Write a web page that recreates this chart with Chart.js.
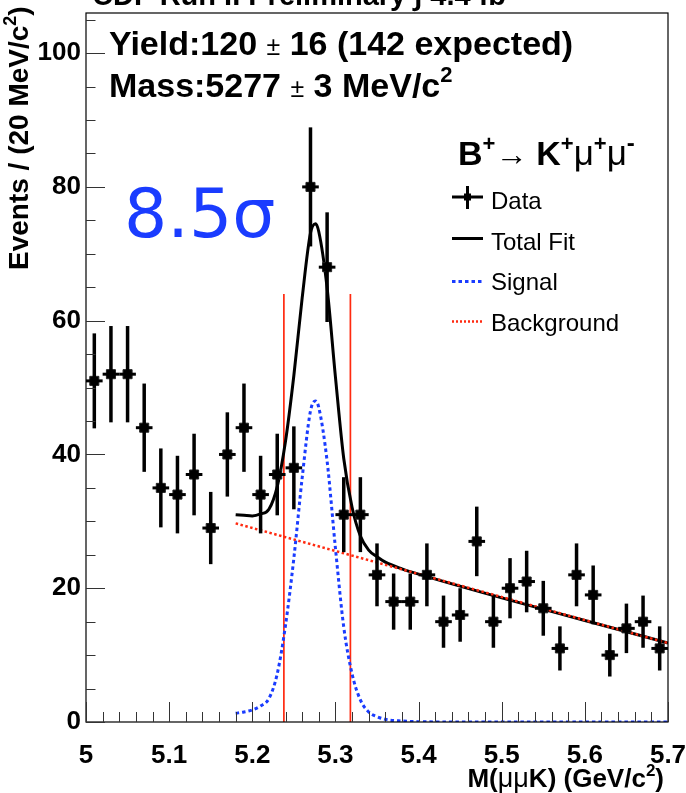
<!DOCTYPE html>
<html>
<head>
<meta charset="utf-8">
<script src="https://cdn.jsdelivr.net/npm/chart.js@4.4.1/dist/chart.umd.min.js"></script>
<style>
  html, body { margin: 0; padding: 0; background: #fff; }
  #wrap { width: 686px; height: 793px; }
</style>
</head>
<body>
<div id="wrap"><canvas id="chart" width="686" height="793"></canvas></div>
<script>
// B+ -> K+ mu+ mu- invariant mass fit

// data histogram (20 MeV bins)
const binCenters = [5.01, 5.03, 5.05, 5.07, 5.09, 5.11, 5.13, 5.15, 5.17, 5.19,
                    5.21, 5.23, 5.25, 5.27, 5.29, 5.31, 5.33, 5.35, 5.37, 5.39,
                    5.41, 5.43, 5.45, 5.47, 5.49, 5.51, 5.53, 5.55, 5.57, 5.59,
                    5.61, 5.63, 5.65, 5.67, 5.69];
const counts = [51, 52, 52, 44, 35, 34, 37, 29, 40, 44,
                34, 37, 38, 80, 68, 31, 31, 22, 18, 18,
                22, 15, 16, 27, 15, 20, 21, 17, 11, 22,
                19, 10, 14, 15, 11];
const countErr = [7.1, 7.2, 7.2, 6.6, 5.9, 5.8, 6.1, 5.4, 6.3, 6.6,
                  5.8, 6.1, 6.2, 8.9, 8.2, 5.6, 5.6, 4.7, 4.2, 4.2,
                  4.7, 3.9, 4.0, 5.2, 3.9, 4.5, 4.6, 4.1, 3.3, 4.7,
                  4.4, 3.2, 3.7, 3.9, 3.3];
const binHalfWidth = 0.01;

// fit curves
const sigX = [5.18, 5.19, 5.20, 5.21, 5.22, 5.23, 5.24, 5.25, 5.26, 5.27, 5.276,
              5.28, 5.29, 5.30, 5.31, 5.32, 5.33, 5.34, 5.35, 5.36, 5.38, 5.40, 5.45, 5.70];
const sigY = [1.3, 1.5, 1.8, 2.4, 3.5, 7.2, 14.5, 24.5, 36.5, 46.5, 48.0,
              47.0, 39.0, 26.0, 14.2, 7.2, 3.3, 1.5, 0.8, 0.4, 0.15, 0.05, 0, 0];
const totX = [5.18, 5.19, 5.20, 5.21, 5.22, 5.23, 5.24, 5.25, 5.26, 5.27, 5.276,
              5.28, 5.29, 5.30, 5.31, 5.32, 5.33, 5.34, 5.35, 5.36, 5.38, 5.40, 5.70];
const totY = [31.0, 30.9, 30.8, 31.1, 31.8, 35.2, 42.0, 51.8, 63.4, 73.1, 74.5,
              73.3, 64.9, 51.6, 39.4, 32.1, 27.8, 25.7, 24.7, 23.9, 22.9, 22.1, 11.8];
const bkgX = [5.18, 5.70];
const bkgY = [29.7, 11.8];

// signal window
const windowX = [5.238, 5.318];
const windowTop = 64;

const xTickValues = [5, 5.1, 5.2, 5.3, 5.4, 5.5, 5.6, 5.7];
const xTickLabels = ['5', '5.1', '5.2', '5.3', '5.4', '5.5', '5.6', '5.7'];
const yTickValues = [0, 20, 40, 60, 80, 100];
const yTickLabels = ['0', '20', '40', '60', '80', '100'];

const SANS = '"Liberation Sans", Arial, Helvetica, sans-serif';
const RED = '#ff2a10';
const BLUE = '#1a3cff';

function pts(xs, ys) {
  return xs.map((x, i) => ({ x: x, y: ys[i] }));
}

function drawParts(ctx, parts, x, y, align) {
  let w = 0;
  parts.forEach(p => {
    ctx.font = p.font;
    p.w = ctx.measureText(p.t).width;
    w += p.w + (p.gap || 0);
  });
  let cx = align === 'right' ? x - w : x;
  parts.forEach(p => {
    ctx.font = p.font;
    ctx.fillStyle = p.color || '#000';
    ctx.fillText(p.t, cx, y - (p.rise || 0));
    cx += p.w + (p.gap || 0);
  });
}

const decorPlugin = {
  id: 'decor',
  afterDatasetsDraw(chart) {
    const ctx = chart.ctx;
    const xs = chart.scales.x, ys = chart.scales.y;
    ctx.save();
    ctx.strokeStyle = '#000';
    for (let i = 0; i < binCenters.length; i++) {
      const px = xs.getPixelForValue(binCenters[i]);
      const py = ys.getPixelForValue(counts[i]);
      ctx.lineWidth = 3;
      ctx.beginPath();
      ctx.moveTo(xs.getPixelForValue(binCenters[i] - binHalfWidth), py);
      ctx.lineTo(xs.getPixelForValue(binCenters[i] + binHalfWidth), py);
      ctx.stroke();
      ctx.lineWidth = 3.5;
      ctx.beginPath();
      ctx.moveTo(px, ys.getPixelForValue(counts[i] + countErr[i]));
      ctx.lineTo(px, ys.getPixelForValue(counts[i] - countErr[i]));
      ctx.stroke();
    }
    ctx.restore();
  },
  afterDraw(chart) {
    const ctx = chart.ctx;
    const a = chart.chartArea;
    const xs = chart.scales.x, ys = chart.scales.y;
    ctx.save();

    // frame
    ctx.strokeStyle = '#000';
    ctx.lineWidth = 1.2;
    ctx.strokeRect(a.left, a.top, a.right - a.left, a.bottom - a.top);

    // ticks, inside the frame
    ctx.strokeStyle = '#333';
    ctx.lineWidth = 1;
    for (let v = 0; v <= 105; v += 5) {
      const py = Math.round(ys.getPixelForValue(v)) + 0.5;
      const len = v % 20 === 0 ? 19 : 9.5;
      ctx.beginPath();
      ctx.moveTo(a.left, py);
      ctx.lineTo(a.left + len, py);
      ctx.stroke();
    }
    for (let k = 0; k <= 35; k++) {
      const px = Math.round(xs.getPixelForValue(5 + k * 0.02)) + 0.5;
      const len = k % 5 === 0 ? 20 : 10;
      ctx.beginPath();
      ctx.moveTo(px, a.bottom);
      ctx.lineTo(px, a.bottom - len);
      ctx.stroke();
    }

    ctx.textBaseline = 'alphabetic';
    const B = (s) => 'bold ' + s + 'px ' + SANS;
    const R = (s) => s + 'px ' + SANS;

    // clipped title at the very top
    drawParts(ctx, [
      { t: 'CDF Run II Preliminary \u222B 4.4 fb', font: B(29) },
      { t: '-1', font: B(19), rise: 13 }
    ], 92, 5, 'left');

    // fit results
    drawParts(ctx, [
      { t: 'Yield:120 ', font: B(34) },
      { t: '\u00B1', font: R(25) },
      { t: ' 16 (142 expected)', font: B(34) }
    ], 109, 55, 'left');
    drawParts(ctx, [
      { t: 'Mass:5277 ', font: B(34) },
      { t: '\u00B1', font: R(25) },
      { t: ' 3 MeV/c', font: B(34) },
      { t: '2', font: B(22), rise: 15 }
    ], 109, 97, 'left');

    // significance
    drawParts(ctx, [
      { t: '8.5\u03C3', font: '68px "DejaVu Sans", sans-serif', color: BLUE }
    ], 124, 237, 'left');

    // legend header
    drawParts(ctx, [
      { t: 'B', font: B(34) },
      { t: '+', font: B(22), rise: 14 },
      { t: '\u2192 ', font: R(32) },
      { t: 'K', font: B(34) },
      { t: '+', font: B(22), rise: 14 },
      { t: '\u03BC', font: R(35) },
      { t: '+', font: B(22), rise: 14 },
      { t: '\u03BC', font: R(35) },
      { t: '-', font: B(24), rise: 14 }
    ], 458, 165, 'left');

    // legend entries
    ctx.lineCap = 'butt';
    ctx.strokeStyle = '#000';
    ctx.lineWidth = 3;
    ctx.beginPath();
    ctx.moveTo(452, 197); ctx.lineTo(483, 197);
    ctx.moveTo(467.5, 186); ctx.lineTo(467.5, 209);
    ctx.stroke();
    ctx.fillStyle = '#000';
    ctx.fillRect(464, 193.5, 7, 7);

    ctx.lineWidth = 3;
    ctx.beginPath();
    ctx.moveTo(452, 238.5); ctx.lineTo(483, 238.5);
    ctx.stroke();

    ctx.strokeStyle = BLUE;
    ctx.setLineDash([3.5, 3]);
    ctx.beginPath();
    ctx.moveTo(452, 281.5); ctx.lineTo(482, 281.5);
    ctx.stroke();

    ctx.strokeStyle = RED;
    ctx.lineWidth = 2.5;
    ctx.setLineDash([2, 2]);
    ctx.beginPath();
    ctx.moveTo(452, 321.5); ctx.lineTo(483, 321.5);
    ctx.stroke();
    ctx.setLineDash([]);

    const legendNames = ['Data', 'Total Fit', 'Signal', 'Background'];
    const legendBase = [208.5, 249.5, 290, 331];
    legendNames.forEach((n, i) => {
      drawParts(ctx, [{ t: n, font: R(24) }], 491, legendBase[i], 'left');
    });

    // x axis title
    drawParts(ctx, [
      { t: 'M(', font: B(26) },
      { t: '\u03BC\u03BC', font: R(27) },
      { t: 'K) (GeV/c', font: B(26) },
      { t: '2', font: B(17), rise: 11 },
      { t: ')', font: B(26) }
    ], 664, 787, 'right');

    // y axis title
    ctx.translate(28, 270);
    ctx.rotate(-Math.PI / 2);
    drawParts(ctx, [
      { t: 'Events / (20 MeV/c', font: B(28) },
      { t: '2', font: B(18), rise: 12 },
      { t: ')', font: B(28) }
    ], 0, 0, 'left');

    ctx.restore();
  }
};

new Chart(document.getElementById('chart'), {
  type: 'scatter',
  data: {
    datasets: [
      {
        label: 'Data',
        data: pts(binCenters, counts),
        pointStyle: 'rect',
        pointRadius: 6.4,
        pointBackgroundColor: '#000',
        pointBorderColor: '#222',
        pointBorderWidth: 1,
        showLine: false,
        order: 0
      },
      {
        label: 'Background',
        data: pts(bkgX, bkgY),
        showLine: true,
        borderColor: RED,
        borderWidth: 2.5,
        borderDash: [2.5, 2.5],
        pointRadius: 0,
        order: 1
      },
      {
        label: 'Total Fit',
        data: pts(totX, totY),
        showLine: true,
        borderColor: '#000',
        borderWidth: 3,
        cubicInterpolationMode: 'monotone',
        pointRadius: 0,
        order: 2
      },
      {
        label: 'Signal',
        data: pts(sigX, sigY),
        showLine: true,
        borderColor: BLUE,
        borderWidth: 3,
        borderDash: [3.5, 3],
        cubicInterpolationMode: 'monotone',
        pointRadius: 0,
        order: 3
      },
      {
        label: 'window low',
        data: [{ x: windowX[0], y: 0 }, { x: windowX[0], y: windowTop }],
        showLine: true,
        borderColor: RED,
        borderWidth: 1.7,
        pointRadius: 0,
        order: 4
      },
      {
        label: 'window high',
        data: [{ x: windowX[1], y: 0 }, { x: windowX[1], y: windowTop }],
        showLine: true,
        borderColor: RED,
        borderWidth: 1.7,
        pointRadius: 0,
        order: 4
      }
    ]
  },
  options: {
    responsive: false,
    animation: false,
    events: [],
    layout: { padding: { top: 13, right: 18, left: 0, bottom: 0 } },
    plugins: { legend: { display: false }, tooltip: { enabled: false } },
    scales: {
      x: {
        type: 'linear',
        min: 5,
        max: 5.7,
        grid: { display: false, drawTicks: false },
        border: { display: false },
        ticks: {
          stepSize: 0.1,
          autoSkip: false,
          maxRotation: 0,
          padding: 18,
          color: '#000',
          font: { family: SANS, size: 26, weight: 'bold' },
          callback: v => {
            const i = xTickValues.findIndex(t => Math.abs(t - v) < 1e-6);
            return i >= 0 ? xTickLabels[i] : '';
          }
        },
        afterFit: s => {
          s.height = 71;
          s.paddingLeft = 0;
          s.paddingRight = 0;
        }
      },
      y: {
        type: 'linear',
        min: 0,
        max: 106,
        grid: { display: false, drawTicks: false },
        border: { display: false },
        ticks: {
          stepSize: 20,
          includeBounds: false,
          padding: 5,
          color: '#000',
          font: { family: SANS, size: 26, weight: 'bold' },
          callback: v => {
            const i = yTickValues.indexOf(v);
            return i >= 0 ? yTickLabels[i] : '';
          }
        },
        afterFit: s => {
          s.width = 86;
          s.paddingTop = 0;
          s.paddingBottom = 0;
        }
      }
    }
  },
  plugins: [decorPlugin]
});
</script>
</body>
</html>
